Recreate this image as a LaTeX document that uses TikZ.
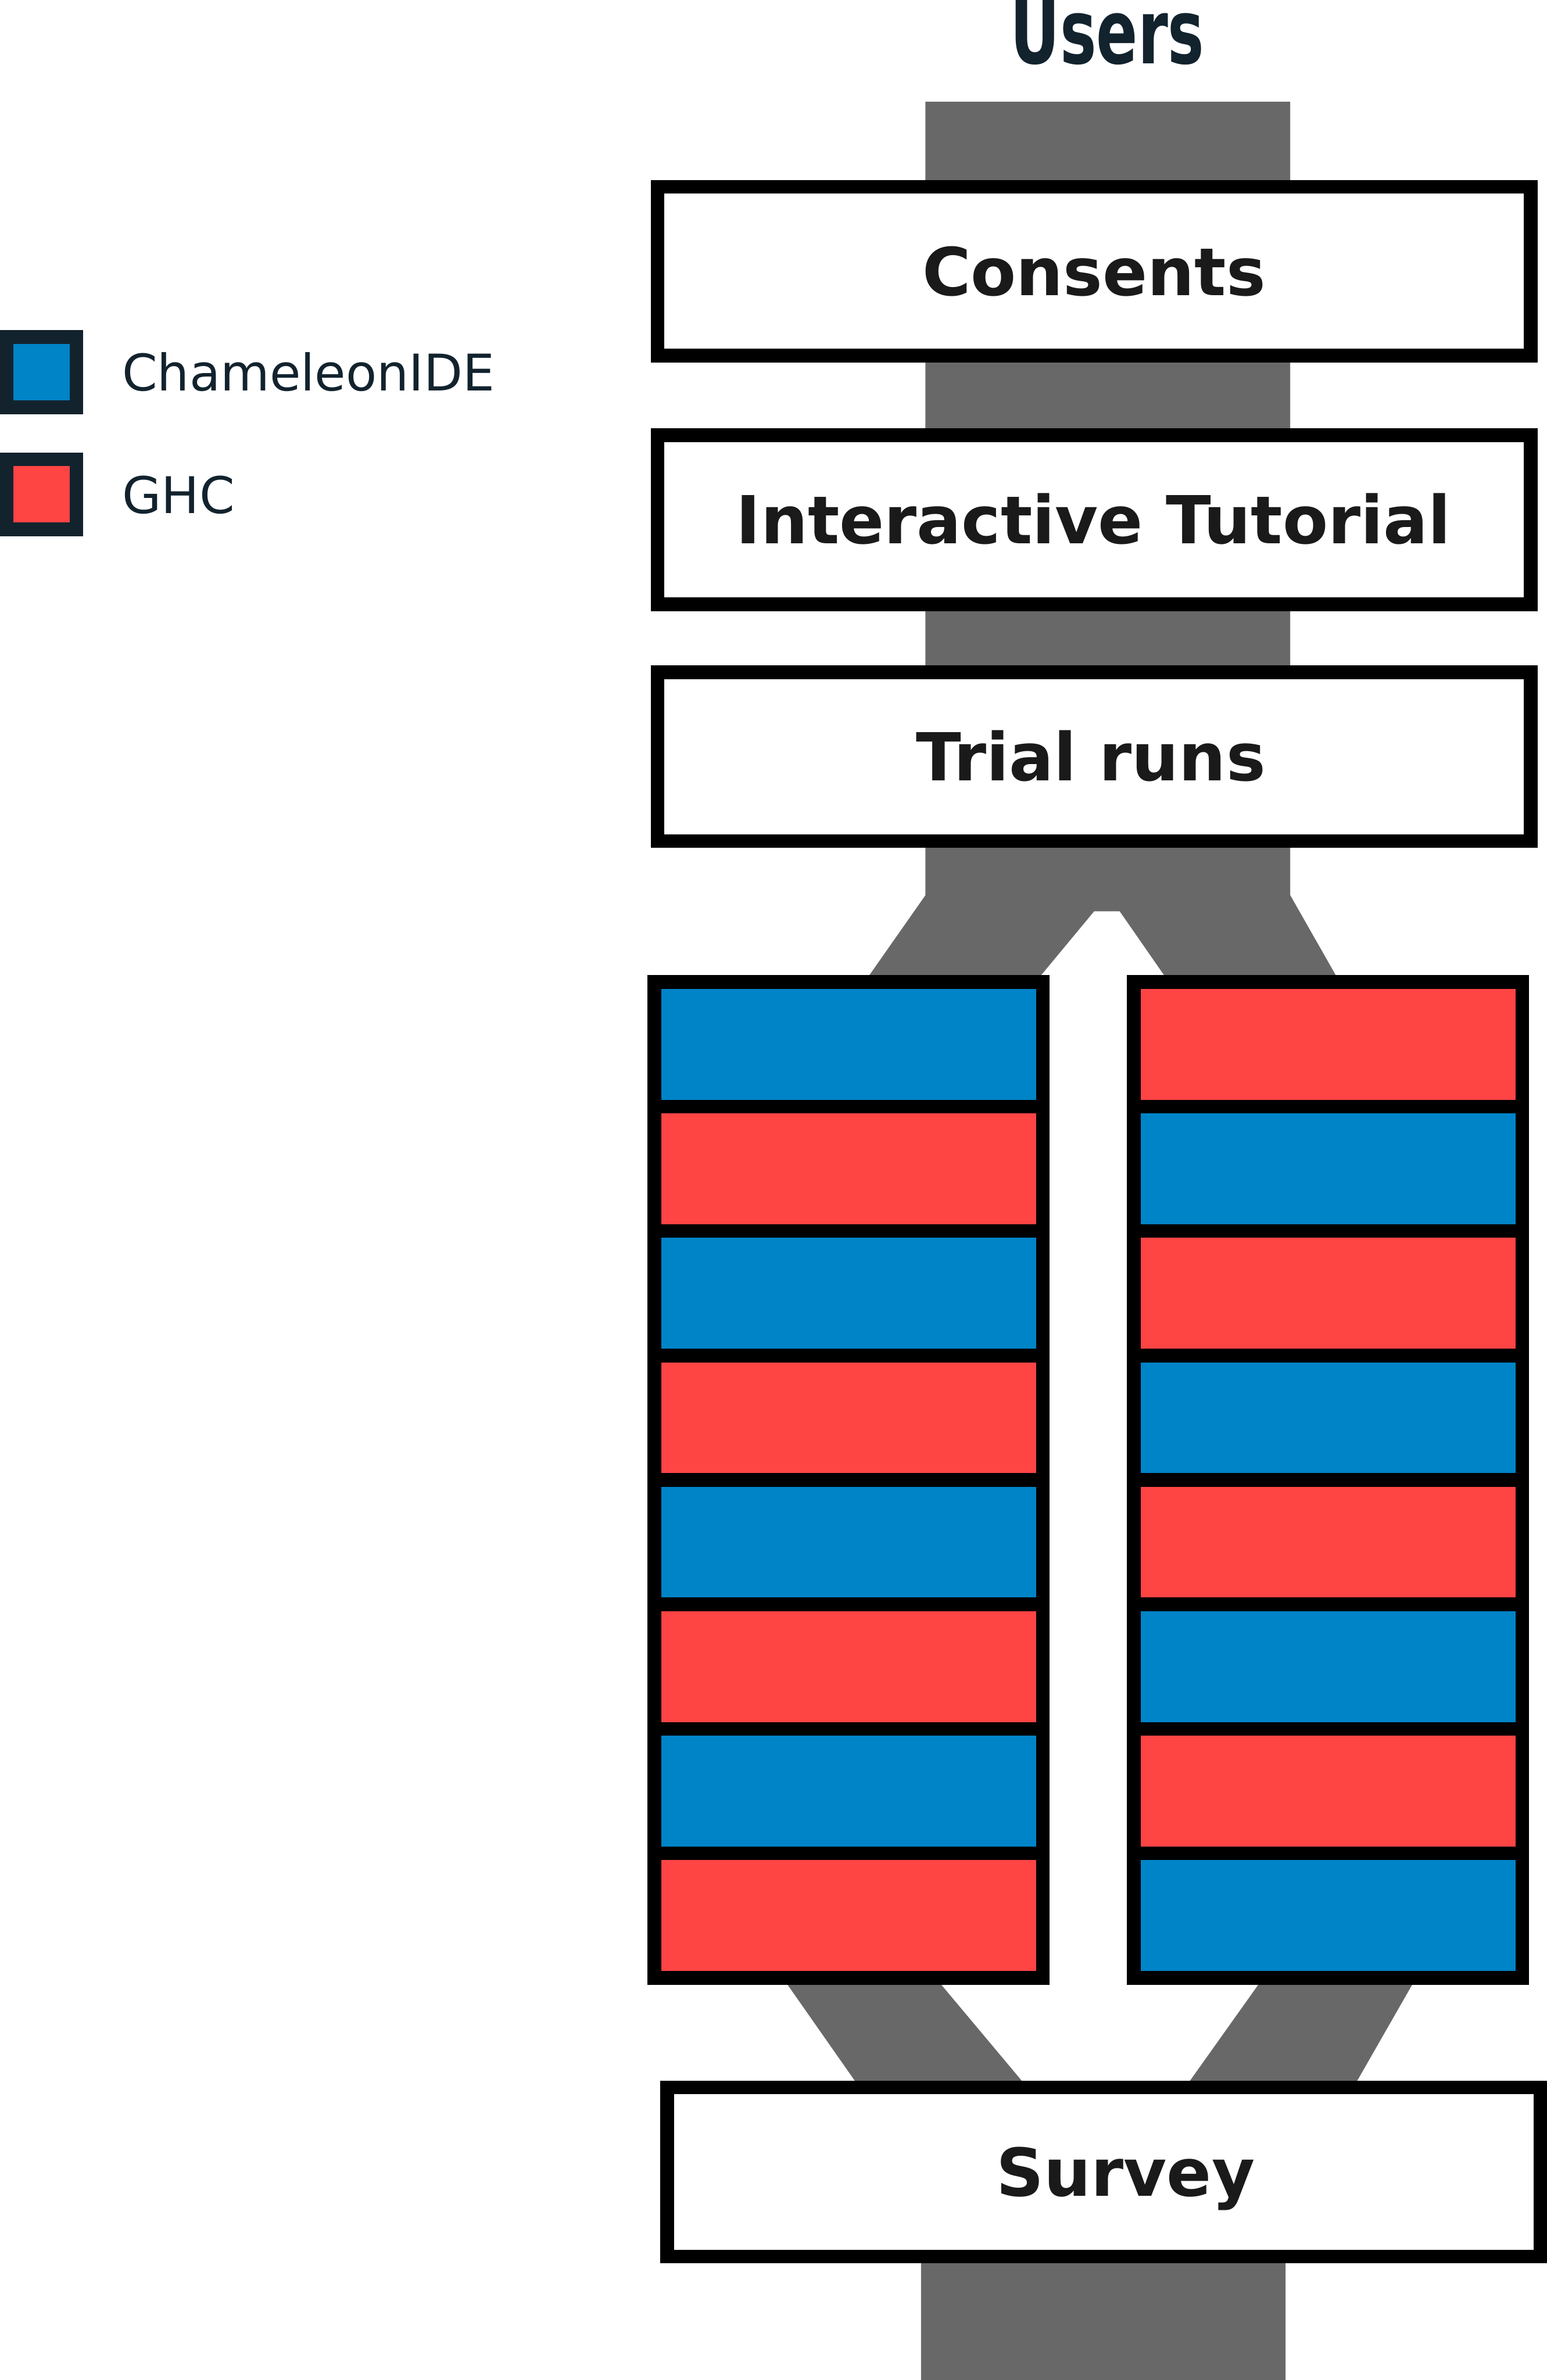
\documentclass[tikz,border=0pt]{standalone}
\usepackage{fontspec}
\setmainfont{DejaVu Sans}
\usepackage{graphicx}
\definecolor{flow}{HTML}{686868}
\definecolor{cham}{HTML}{0084C8}
\definecolor{ghc}{HTML}{FF4444}
\definecolor{navy}{HTML}{12232E}
\definecolor{labeltext}{HTML}{1A1A1A}
\tikzset{
  stage/.style={draw=black, fill=white, line width=5.12pt,
    minimum width=11.506cm, minimum height=2.226cm, inner sep=0pt, outer sep=0pt},
  stagelabel/.style={text=labeltext, inner sep=0pt, outer sep=0pt,
    font=\bfseries\fontsize{24.8pt}{30pt}\selectfont, text height=18.1pt, text depth=0pt},
  stripe/.style={draw=black, line width=5.12pt, minimum width=5.12cm,
    minimum height=1.64cm, inner sep=0pt, outer sep=0pt},
  legendsq/.style={draw=navy, line width=5.12pt, minimum width=0.918cm,
    minimum height=0.924cm, inner sep=0pt, outer sep=0pt},
  legendtext/.style={text=navy, inner sep=0pt, outer sep=0pt, anchor=base west,
    font=\fontsize{18.95pt}{22pt}\selectfont},
  flowshape/.style={fill=flow, draw=none}
}
\begin{document}
\begin{tikzpicture}[x=0.02cm, y=-0.02cm]
\useasboundingbox (0,0) rectangle (1019,1568);
\clip (0,0) rectangle (1019,1568);

% title
\node[anchor=base, text=navy, inner sep=0pt,
  font=\bfseries\fontsize{33.7pt}{40pt}\selectfont] (users) at (729.5,42) {\scalebox{0.68}[1]{Users}};

% flows
\fill[flowshape] (609.6,67) -- (609.6,589.8) -- (563.9,655) -- (675.4,655)
  -- (720.7,600.4) -- (737.6,600.4) -- (775.5,655) -- (887,655)
  -- (849.9,589.8) -- (849.9,67) -- cycle;
\fill[flowshape] (510,1295) -- (609.5,1295) -- (684.9,1385) -- (773.8,1385)
  -- (837.8,1295) -- (937.4,1295) -- (885.9,1385) -- (846.8,1400)
  -- (846.8,1568) -- (606.7,1568) -- (606.7,1400) -- (573,1385) -- cycle;

% stages
\node[stage] (consents) at (720.65,178.65) {};
\node[stagelabel] (consentslabel) at (720.65,178.65) {Consents};
\node[stage] (tutorial) at (720.65,342.4) {};
\node[stagelabel] (tutoriallabel) at (720.3,342.4) {Interactive Tutorial};
\node[stage] (trial) at (720.65,498.5) {};
\node[stagelabel] (triallabel) at (718.5,498.5) {Trial runs};
\node[stage, minimum width=11.504cm, minimum height=2.228cm] (survey) at (727,1430.9) {};
\node[stagelabel] (surveylabel) at (741.5,1430.9) {Survey};

% task columns
\foreach \i/\lc/\rc in {0/cham/ghc,1/ghc/cham,2/cham/ghc,3/ghc/cham,4/cham/ghc,5/ghc/cham,6/cham/ghc,7/ghc/cham}{
  \node[stripe, fill=\lc] (L\i) at (559.05,{688+82*\i}) {};
  \node[stripe, fill=\rc] (R\i) at (874.75,{688+82*\i}) {};
}

% legend
\node[legendsq, fill=cham] (legcham) at (27.35,245.2) {};
\node[legendtext] (legchamtext) at (80.5,257.6) {ChameleonIDE};
\node[legendsq, fill=ghc] (legghc) at (27.35,325.65) {};
\node[legendtext] (legghctext) at (80.5,338.2) {GHC};
\end{tikzpicture}
\end{document}
